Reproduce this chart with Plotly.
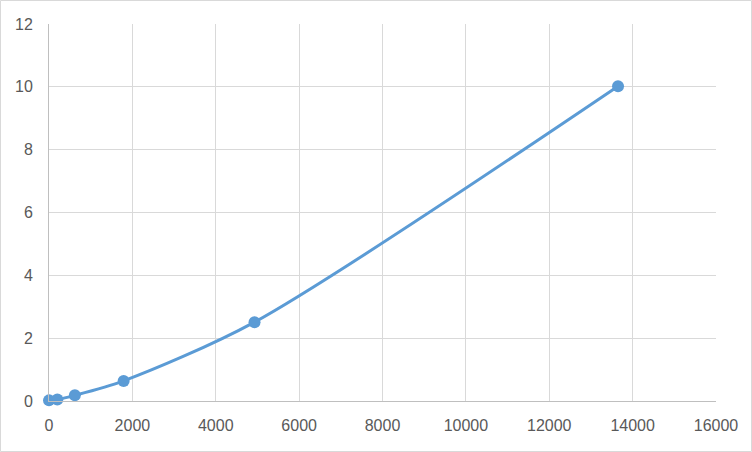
import plotly.graph_objects as go

x_vals = [0, 200, 620, 1790, 4930, 13650]
y_vals = [0.02, 0.05, 0.18, 0.64, 2.51, 10.02]

x_ticks = [0, 2000, 4000, 6000, 8000, 10000, 12000, 14000, 16000]
y_ticks = [0, 2, 4, 6, 8, 10, 12]

W, H = 752, 452
L, R, T, B = 49, 36, 24, 51
pw, ph = W - L - R, H - T - B

fig = go.Figure()
fig.add_trace(go.Scatter(
    x=x_vals, y=y_vals, mode="lines+markers",
    line=dict(color="#5b9bd5", width=3, shape="spline", smoothing=0.8),
    marker=dict(color="#5b9bd5", size=12),
    cliponaxis=False, showlegend=False,
))

axis_font = dict(family="Liberation Sans, Arial, sans-serif", size=16, color="#595959")
fig.update_layout(
    width=W, height=H,
    margin=dict(l=L, r=R, t=T, b=B, pad=0),
    paper_bgcolor="white", plot_bgcolor="white",
    xaxis=dict(range=[0, 16000], tickvals=x_ticks, ticktext=[str(v) for v in x_ticks],
               showgrid=True, gridcolor="#d9d9d9", gridwidth=1, zeroline=False,
               showline=True, linecolor="#bfbfbf", linewidth=1, ticks="",
               tickfont=axis_font, ticklabelstandoff=10),
    yaxis=dict(range=[0, 12], tickvals=y_ticks, ticktext=[str(v) for v in y_ticks],
               showgrid=True, gridcolor="#d9d9d9", gridwidth=1, zeroline=False,
               showline=True, linecolor="#bfbfbf", linewidth=1, ticks="",
               tickfont=axis_font, ticklabelstandoff=12),
    shapes=[dict(type="rect", xref="paper", yref="paper",
                 x0=(0.5 - L) / pw, x1=(W - 0.5 - L) / pw,
                 y0=(H - B - (H - 0.5)) / ph, y1=(H - B - 0.5) / ph,
                 line=dict(color="#d9d9d9", width=1), fillcolor="rgba(0,0,0,0)")],
)

fig.write_html("out.html", config={"displayModeBar": False},
               post_script="document.body.style.margin='0';document.body.style.overflow='hidden';")
